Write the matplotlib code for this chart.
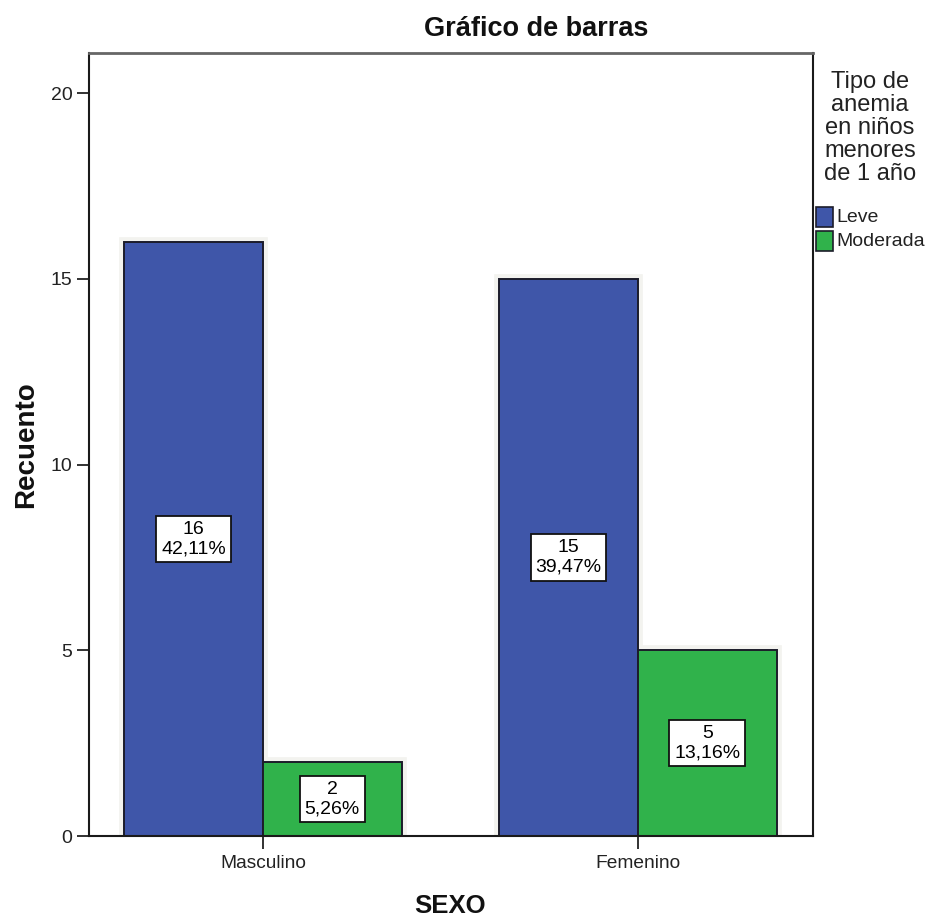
import matplotlib
matplotlib.use("Agg")
import matplotlib.pyplot as plt
from matplotlib.patches import Rectangle
import numpy as np

plt.rcParams['font.family'] = ['Liberation Sans', 'DejaVu Sans']

# Data
categories = ["Masculino", "Femenino"]
series = ["Leve", "Moderada"]
counts_leve = [16, 15]
counts_moderada = [2, 5]
pct_leve = ["42,11%", "39,47%"]
pct_moderada = ["5,26%", "13,16%"]
y_ticks = [0, 5, 10, 15, 20]

colors = {"Leve": "#3f56a9", "Moderada": "#30b24b"}

W, H = 927, 921
fig = plt.figure(figsize=(W / 100, H / 100), dpi=100)
ax = fig.add_axes([89 / W, 1 - 836 / H, (813 - 89) / W, (836 - 53) / H])

x = np.arange(len(categories))
width = 0.37
offsets = {"Leve": -width / 2, "Moderada": width / 2}
values = {"Leve": counts_leve, "Moderada": counts_moderada}
pcts = {"Leve": pct_leve, "Moderada": pct_moderada}

for s in series:
    # soft halo behind each bar
    ax.bar(x + offsets[s], values[s], width, color="none", edgecolor="#f3f3ef",
           linewidth=7, zorder=1)
for s in series:
    ax.bar(x + offsets[s], values[s], width, color=colors[s], edgecolor="#1c1c2a",
           linewidth=1.4, zorder=2, label=s)
    for xi, v, p in zip(x + offsets[s], values[s], pcts[s]):
        ax.text(xi, v / 2, f"{v}\n{p}", ha="center", va="center", fontsize=14,
                linespacing=1.2, zorder=4,
                bbox=dict(boxstyle="square,pad=0.25", facecolor="white",
                          edgecolor="#111111", linewidth=1.3))

ax.set_xlim(-0.464, 1.467)
ax.set_ylim(0, 21.08)
ax.set_yticks(y_ticks)
ax.set_yticklabels([str(t) for t in y_ticks])
ax.set_xticks(x)
ax.set_xticklabels(categories)
ax.tick_params(axis="y", direction="out", length=9, width=1.3, pad=3,
               labelsize=14, colors="#222222")
ax.tick_params(axis="x", direction="out", length=9, width=1.3, pad=5,
               labelsize=13.8, colors="#222222")

for side in ["left", "bottom", "right"]:
    ax.spines[side].set_color("#1a1a1a")
    ax.spines[side].set_linewidth(1.5)
ax.spines["top"].set_color("#666666")
ax.spines["top"].set_linewidth(2.0)

# titles and axis labels
fig.text(536 / W, 1 - 29 / H, "Gráfico de barras", ha="center", va="center",
         fontsize=19.5, fontweight="bold", color="#111111")
fig.text(26 / W, 1 - 445 / H, "Recuento", ha="center", va="center",
         rotation=90, fontsize=20, fontweight="bold", color="#111111")
fig.text(450 / W, 1 - 906 / H, "SEXO", ha="center", va="center",
         fontsize=18.5, fontweight="bold", color="#111111")

# legend
fig.text(870 / W, 1 - 128 / H, "Tipo de\nanemia\nen niños\nmenores\nde 1 año",
         ha="center", va="center", fontsize=17, linespacing=1.05,
         color="#222222")
for i, s in enumerate(series):
    y0 = 1 - (227 + i * 24) / H
    fig.patches.append(Rectangle((816 / W, y0), 17 / W, 20 / H,
                                 transform=fig.transFigure, facecolor=colors[s],
                                 edgecolor="#1c1c2a", linewidth=1.2))
    fig.text(836 / W, y0 + 10 / H, s, ha="left", va="center", fontsize=14,
             color="#222222")

fig.savefig("out.png", dpi=100, facecolor="white")
